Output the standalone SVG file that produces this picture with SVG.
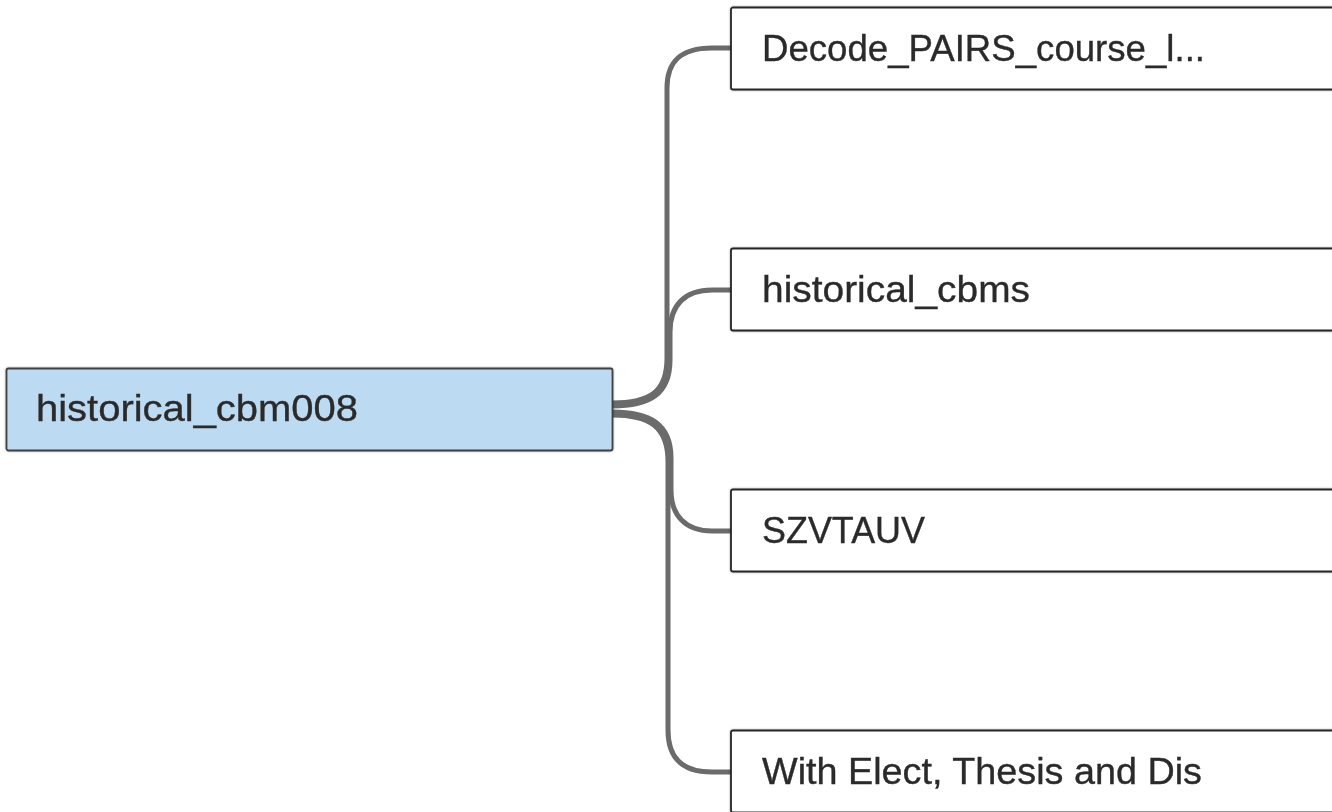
<svg xmlns="http://www.w3.org/2000/svg" width="1332" height="812" viewBox="0 0 1332 812">
<defs>
<filter id="sh" x="-5%" y="-20%" width="110%" height="140%">
<feGaussianBlur in="SourceAlpha" stdDeviation="1.2"/>
<feComponentTransfer><feFuncA type="linear" slope="0.35"/></feComponentTransfer>
<feMerge><feMergeNode/><feMergeNode in="SourceGraphic"/></feMerge>
</filter>
</defs>
<style>
.lbl{font-family:"Liberation Sans",Arial,sans-serif;font-size:37px;fill:#2b2b2b;stroke:#2b2b2b;stroke-width:0.35}
.child{fill:#ffffff;stroke:#262626;stroke-width:1.8}
.root{fill:#bcdaf2;stroke:#404040;stroke-width:1.8}
.conn{fill:none;stroke:#6b6b6b;stroke-width:5;stroke-linecap:butt}
</style>
<rect width="1332" height="812" fill="#ffffff"/>
<g id="connectors">
<path class="conn" d="M612,403 C650,403 667,392 667,358 L667,88 C667,62 680,48 712,48 L731,48"/>
<path class="conn" d="M612,406 C650,406 670,394 670,360 L670,332 C670,305 685,290 712,290 L731,290"/>
<path class="conn" d="M612,412 C650,412 671,424 671,458 L671,490 C671,516 686,531 712,531 L731,531"/>
<path class="conn" d="M612,415 C650,415 668,427 668,462 L668,730 C668,757 681,772 712,772 L731,772"/>
</g>
<g id="root" filter="url(#sh)">
<rect class="root" x="6.5" y="368.5" width="606" height="82" rx="2"/>
<text class="lbl" x="36" y="421" textLength="322" lengthAdjust="spacingAndGlyphs">historical_cbm008</text>
</g>
<g id="n1" filter="url(#sh)">
<rect class="child" x="731" y="7.5" width="700" height="82" rx="2"/>
<text class="lbl" x="762" y="61" textLength="443" lengthAdjust="spacingAndGlyphs">Decode_PAIRS_course_l...</text>
</g>
<g id="n2" filter="url(#sh)">
<rect class="child" x="731" y="248.5" width="700" height="82" rx="2"/>
<text class="lbl" x="762" y="302" textLength="268" lengthAdjust="spacingAndGlyphs">historical_cbms</text>
</g>
<g id="n3" filter="url(#sh)">
<rect class="child" x="731" y="489.5" width="700" height="82" rx="2"/>
<text class="lbl" x="762" y="543" textLength="163" lengthAdjust="spacingAndGlyphs">SZVTAUV</text>
</g>
<g id="n4" filter="url(#sh)">
<rect class="child" x="731" y="730.5" width="700" height="82" rx="2"/>
<text class="lbl" x="762" y="784" textLength="440" lengthAdjust="spacingAndGlyphs">With Elect, Thesis and Dis</text>
</g>
</svg>
